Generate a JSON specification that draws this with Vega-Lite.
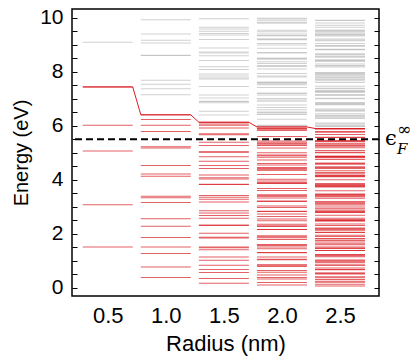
{
"$schema": "https://vega.github.io/schema/vega-lite/v6.json",
"width": 307, "height": 287,
"autosize": {"type": "none"},
"padding": {"left": 72, "top": 9, "right": 33, "bottom": 64},
"background": "white",
"config": {"view": {"stroke": "black", "strokeWidth": 1.5}, "font": "Liberation Sans",
 "axis": {"grid": false, "domain": false, "tickColor": "black", "labelColor": "black", "titleColor": "black", "labelFont": "Liberation Sans", "titleFont": "Liberation Sans", "titleFontWeight": "normal"}},
"datasets": {
"homo": [{"r":0.285,"e":7.442},{"r":0.715,"e":7.442},{"r":0.785,"e":6.406},{"r":1.215,"e":6.406},{"r":1.285,"e":6.13},{"r":1.715,"e":6.13},{"r":1.785,"e":5.959},{"r":2.215,"e":5.959},{"r":2.285,"e":5.9},{"r":2.715,"e":5.9}],
"levels": [
{"r":0.5,"e":1.504,"s":"o"},{"r":0.5,"e":3.077,"s":"o"},{"r":0.5,"e":5.062,"s":"o"},{"r":0.5,"e":6.017,"s":"o"},{"r":0.5,"e":7.442,"s":"o"},{"r":0.5,"e":9.095,"s":"u"},
{"r":1,"e":0.376,"s":"o"},{"r":1,"e":0.769,"s":"o"},{"r":1,"e":1.266,"s":"o"},{"r":1,"e":1.504,"s":"o"},{"r":1,"e":1.86,"s":"o"},{"r":1,"e":2.274,"s":"o"},{"r":1,"e":2.551,"s":"o"},{"r":1,"e":3.152,"s":"o"},{"r":1,"e":3.335,"s":"o"},{"r":1,"e":3.384,"s":"o"},{"r":1,"e":4.134,"s":"o"},{"r":1,"e":4.211,"s":"o"},{"r":1,"e":4.53,"s":"o"},{"r":1,"e":5.177,"s":"o"},{"r":1,"e":5.22,"s":"o"},{"r":1,"e":5.786,"s":"o"},{"r":1,"e":6.017,"s":"o"},{"r":1,"e":6.233,"s":"o"},{"r":1,"e":6.406,"s":"o"},
{"r":1,"e":7.149,"s":"u"},{"r":1,"e":7.378,"s":"u"},{"r":1,"e":7.538,"s":"u"},{"r":1,"e":7.69,"s":"u"},{"r":1,"e":8.61,"s":"u"},{"r":1,"e":8.618,"s":"u"},{"r":1,"e":9.073,"s":"u"},{"r":1,"e":9.171,"s":"u"},{"r":1,"e":9.401,"s":"u"},{"r":1,"e":9.931,"s":"u"},
{"r":1.5,"e":0.167,"s":"o"},{"r":1.5,"e":0.342,"s":"o"},{"r":1.5,"e":0.562,"s":"o"},{"r":1.5,"e":0.668,"s":"o"},{"r":1.5,"e":0.827,"s":"o"},{"r":1.5,"e":1.011,"s":"o"},{"r":1.5,"e":1.134,"s":"o"},{"r":1.5,"e":1.401,"s":"o"},{"r":1.5,"e":1.482,"s":"o"},{"r":1.5,"e":1.504,"s":"o"},{"r":1.5,"e":1.838,"s":"o"},{"r":1.5,"e":1.871,"s":"o"},{"r":1.5,"e":2.013,"s":"o"},{"r":1.5,"e":2.301,"s":"o"},{"r":1.5,"e":2.32,"s":"o"},{"r":1.5,"e":2.571,"s":"o"},{"r":1.5,"e":2.674,"s":"o"},{"r":1.5,"e":2.77,"s":"o"},{"r":1.5,"e":2.847,"s":"o"},{"r":1.5,"e":3.177,"s":"o"},{"r":1.5,"e":3.279,"s":"o"},{"r":1.5,"e":3.35,"s":"o"},{"r":1.5,"e":3.418,"s":"o"},{"r":1.5,"e":3.827,"s":"o"},{"r":1.5,"e":3.83,"s":"o"},{"r":1.5,"e":4.032,"s":"o"},{"r":1.5,"e":4.076,"s":"o"},{"r":1.5,"e":4.178,"s":"o"},{"r":1.5,"e":4.414,"s":"o"},{"r":1.5,"e":4.529,"s":"o"},{"r":1.5,"e":4.689,"s":"o"},{"r":1.5,"e":4.85,"s":"o"},{"r":1.5,"e":5.022,"s":"o"},{"r":1.5,"e":5.039,"s":"o"},{"r":1.5,"e":5.274,"s":"o"},{"r":1.5,"e":5.388,"s":"o"},{"r":1.5,"e":5.671,"s":"o"},{"r":1.5,"e":5.702,"s":"o"},{"r":1.5,"e":5.914,"s":"o"},{"r":1.5,"e":6.016,"s":"o"},{"r":1.5,"e":6.063,"s":"o"},{"r":1.5,"e":6.13,"s":"o"},
{"r":1.5,"e":6.404,"s":"u"},{"r":1.5,"e":6.54,"s":"u"},{"r":1.5,"e":6.856,"s":"u"},{"r":1.5,"e":6.897,"s":"u"},{"r":1.5,"e":6.91,"s":"u"},{"r":1.5,"e":7.027,"s":"u"},{"r":1.5,"e":7.144,"s":"u"},{"r":1.5,"e":7.456,"s":"u"},{"r":1.5,"e":7.734,"s":"u"},{"r":1.5,"e":7.776,"s":"u"},{"r":1.5,"e":7.846,"s":"u"},{"r":1.5,"e":7.921,"s":"u"},{"r":1.5,"e":8.087,"s":"u"},{"r":1.5,"e":8.189,"s":"u"},{"r":1.5,"e":8.417,"s":"u"},{"r":1.5,"e":8.599,"s":"u"},{"r":1.5,"e":8.695,"s":"u"},{"r":1.5,"e":8.737,"s":"u"},{"r":1.5,"e":8.883,"s":"u"},{"r":1.5,"e":9.196,"s":"u"},{"r":1.5,"e":9.367,"s":"u"},{"r":1.5,"e":9.424,"s":"u"},{"r":1.5,"e":9.505,"s":"u"},{"r":1.5,"e":9.59,"s":"u"},{"r":1.5,"e":9.656,"s":"u"},{"r":1.5,"e":9.968,"s":"u"},
{"r":2,"e":0.094,"s":"o"},{"r":2,"e":0.192,"s":"o"},{"r":2,"e":0.316,"s":"o"},{"r":2,"e":0.376,"s":"o"},{"r":2,"e":0.465,"s":"o"},{"r":2,"e":0.568,"s":"o"},{"r":2,"e":0.638,"s":"o"},{"r":2,"e":0.788,"s":"o"},{"r":2,"e":0.834,"s":"o"},{"r":2,"e":0.846,"s":"o"},{"r":2,"e":1.034,"s":"o"},{"r":2,"e":1.053,"s":"o"},{"r":2,"e":1.133,"s":"o"},{"r":2,"e":1.294,"s":"o"},{"r":2,"e":1.305,"s":"o"},{"r":2,"e":1.446,"s":"o"},{"r":2,"e":1.504,"s":"o"},{"r":2,"e":1.558,"s":"o"},{"r":2,"e":1.601,"s":"o"},{"r":2,"e":1.787,"s":"o"},{"r":2,"e":1.845,"s":"o"},{"r":2,"e":1.885,"s":"o"},{"r":2,"e":1.923,"s":"o"},{"r":2,"e":2.153,"s":"o"},{"r":2,"e":2.155,"s":"o"},{"r":2,"e":2.268,"s":"o"},{"r":2,"e":2.293,"s":"o"},{"r":2,"e":2.35,"s":"o"},{"r":2,"e":2.483,"s":"o"},{"r":2,"e":2.548,"s":"o"},{"r":2,"e":2.638,"s":"o"},{"r":2,"e":2.728,"s":"o"},{"r":2,"e":2.825,"s":"o"},{"r":2,"e":2.835,"s":"o"},{"r":2,"e":2.967,"s":"o"},{"r":2,"e":3.031,"s":"o"},{"r":2,"e":3.19,"s":"o"},{"r":2,"e":3.208,"s":"o"},{"r":2,"e":3.327,"s":"o"},{"r":2,"e":3.384,"s":"o"},{"r":2,"e":3.411,"s":"o"},{"r":2,"e":3.448,"s":"o"},{"r":2,"e":3.603,"s":"o"},{"r":2,"e":3.679,"s":"o"},{"r":2,"e":3.857,"s":"o"},{"r":2,"e":3.88,"s":"o"},{"r":2,"e":3.887,"s":"o"},{"r":2,"e":3.953,"s":"o"},{"r":2,"e":4.019,"s":"o"},{"r":2,"e":4.194,"s":"o"},{"r":2,"e":4.351,"s":"o"},{"r":2,"e":4.374,"s":"o"},{"r":2,"e":4.413,"s":"o"},{"r":2,"e":4.456,"s":"o"},{"r":2,"e":4.549,"s":"o"},{"r":2,"e":4.606,"s":"o"},{"r":2,"e":4.735,"s":"o"},{"r":2,"e":4.837,"s":"o"},{"r":2,"e":4.891,"s":"o"},{"r":2,"e":4.915,"s":"o"},{"r":2,"e":4.997,"s":"o"},{"r":2,"e":5.173,"s":"o"},{"r":2,"e":5.269,"s":"o"},{"r":2,"e":5.301,"s":"o"},{"r":2,"e":5.346,"s":"o"},{"r":2,"e":5.394,"s":"o"},{"r":2,"e":5.432,"s":"o"},{"r":2,"e":5.607,"s":"o"},{"r":2,"e":5.824,"s":"o"},{"r":2,"e":5.878,"s":"o"},{"r":2,"e":5.893,"s":"o"},{"r":2,"e":5.895,"s":"o"},{"r":2,"e":5.959,"s":"o"},
{"r":2,"e":6.001,"s":"u"},{"r":2,"e":6.017,"s":"u"},{"r":2,"e":6.244,"s":"u"},{"r":2,"e":6.417,"s":"u"},{"r":2,"e":6.433,"s":"u"},{"r":2,"e":6.502,"s":"u"},{"r":2,"e":6.504,"s":"u"},{"r":2,"e":6.591,"s":"u"},{"r":2,"e":6.677,"s":"u"},{"r":2,"e":6.773,"s":"u"},{"r":2,"e":6.906,"s":"u"},{"r":2,"e":6.96,"s":"u"},{"r":2,"e":7.01,"s":"u"},{"r":2,"e":7.146,"s":"u"},{"r":2,"e":7.206,"s":"u"},{"r":2,"e":7.207,"s":"u"},{"r":2,"e":7.423,"s":"u"},{"r":2,"e":7.523,"s":"u"},{"r":2,"e":7.557,"s":"u"},{"r":2,"e":7.596,"s":"u"},{"r":2,"e":7.61,"s":"u"},{"r":2,"e":7.615,"s":"u"},{"r":2,"e":7.813,"s":"u"},{"r":2,"e":7.843,"s":"u"},{"r":2,"e":7.939,"s":"u"},{"r":2,"e":8.108,"s":"u"},{"r":2,"e":8.195,"s":"u"},{"r":2,"e":8.231,"s":"u"},{"r":2,"e":8.31,"s":"u"},{"r":2,"e":8.37,"s":"u"},{"r":2,"e":8.465,"s":"u"},{"r":2,"e":8.502,"s":"u"},{"r":2,"e":8.504,"s":"u"},{"r":2,"e":8.697,"s":"u"},{"r":2,"e":8.713,"s":"u"},{"r":2,"e":8.875,"s":"u"},{"r":2,"e":8.995,"s":"u"},{"r":2,"e":9.051,"s":"u"},{"r":2,"e":9.188,"s":"u"},{"r":2,"e":9.209,"s":"u"},{"r":2,"e":9.219,"s":"u"},{"r":2,"e":9.339,"s":"u"},{"r":2,"e":9.344,"s":"u"},{"r":2,"e":9.401,"s":"u"},{"r":2,"e":9.482,"s":"u"},{"r":2,"e":9.541,"s":"u"},{"r":2,"e":9.815,"s":"u"},{"r":2,"e":9.821,"s":"u"},{"r":2,"e":9.895,"s":"u"},{"r":2,"e":9.959,"s":"u"},{"r":2,"e":9.986,"s":"u"},
{"r":2.5,"e":0.06,"s":"o"},{"r":2.5,"e":0.123,"s":"o"},{"r":2.5,"e":0.202,"s":"o"},{"r":2.5,"e":0.241,"s":"o"},{"r":2.5,"e":0.298,"s":"o"},{"r":2.5,"e":0.364,"s":"o"},{"r":2.5,"e":0.408,"s":"o"},{"r":2.5,"e":0.504,"s":"o"},{"r":2.5,"e":0.534,"s":"o"},{"r":2.5,"e":0.541,"s":"o"},{"r":2.5,"e":0.662,"s":"o"},{"r":2.5,"e":0.674,"s":"o"},{"r":2.5,"e":0.725,"s":"o"},{"r":2.5,"e":0.828,"s":"o"},{"r":2.5,"e":0.835,"s":"o"},{"r":2.5,"e":0.926,"s":"o"},{"r":2.5,"e":0.963,"s":"o"},{"r":2.5,"e":0.997,"s":"o"},{"r":2.5,"e":1.025,"s":"o"},{"r":2.5,"e":1.144,"s":"o"},{"r":2.5,"e":1.181,"s":"o"},{"r":2.5,"e":1.206,"s":"o"},{"r":2.5,"e":1.23,"s":"o"},{"r":2.5,"e":1.378,"s":"o"},{"r":2.5,"e":1.379,"s":"o"},{"r":2.5,"e":1.452,"s":"o"},{"r":2.5,"e":1.467,"s":"o"},{"r":2.5,"e":1.504,"s":"o"},{"r":2.5,"e":1.589,"s":"o"},{"r":2.5,"e":1.631,"s":"o"},{"r":2.5,"e":1.688,"s":"o"},{"r":2.5,"e":1.746,"s":"o"},{"r":2.5,"e":1.808,"s":"o"},{"r":2.5,"e":1.814,"s":"o"},{"r":2.5,"e":1.899,"s":"o"},{"r":2.5,"e":1.94,"s":"o"},{"r":2.5,"e":2.042,"s":"o"},{"r":2.5,"e":2.053,"s":"o"},{"r":2.5,"e":2.129,"s":"o"},{"r":2.5,"e":2.166,"s":"o"},{"r":2.5,"e":2.183,"s":"o"},{"r":2.5,"e":2.207,"s":"o"},{"r":2.5,"e":2.306,"s":"o"},{"r":2.5,"e":2.355,"s":"o"},{"r":2.5,"e":2.468,"s":"o"},{"r":2.5,"e":2.483,"s":"o"},{"r":2.5,"e":2.488,"s":"o"},{"r":2.5,"e":2.53,"s":"o"},{"r":2.5,"e":2.572,"s":"o"},{"r":2.5,"e":2.684,"s":"o"},{"r":2.5,"e":2.784,"s":"o"},{"r":2.5,"e":2.799,"s":"o"},{"r":2.5,"e":2.825,"s":"o"},{"r":2.5,"e":2.852,"s":"o"},{"r":2.5,"e":2.911,"s":"o"},{"r":2.5,"e":2.948,"s":"o"},{"r":2.5,"e":3.03,"s":"o"},{"r":2.5,"e":3.096,"s":"o"},{"r":2.5,"e":3.13,"s":"o"},{"r":2.5,"e":3.145,"s":"o"},{"r":2.5,"e":3.198,"s":"o"},{"r":2.5,"e":3.311,"s":"o"},{"r":2.5,"e":3.372,"s":"o"},{"r":2.5,"e":3.393,"s":"o"},{"r":2.5,"e":3.422,"s":"o"},{"r":2.5,"e":3.452,"s":"o"},{"r":2.5,"e":3.476,"s":"o"},{"r":2.5,"e":3.589,"s":"o"},{"r":2.5,"e":3.727,"s":"o"},{"r":2.5,"e":3.762,"s":"o"},{"r":2.5,"e":3.771,"s":"o"},{"r":2.5,"e":3.773,"s":"o"},{"r":2.5,"e":3.814,"s":"o"},{"r":2.5,"e":3.841,"s":"o"},{"r":2.5,"e":3.851,"s":"o"},{"r":2.5,"e":3.996,"s":"o"},{"r":2.5,"e":4.107,"s":"o"},{"r":2.5,"e":4.117,"s":"o"},{"r":2.5,"e":4.161,"s":"o"},{"r":2.5,"e":4.162,"s":"o"},{"r":2.5,"e":4.218,"s":"o"},{"r":2.5,"e":4.273,"s":"o"},{"r":2.5,"e":4.335,"s":"o"},{"r":2.5,"e":4.42,"s":"o"},{"r":2.5,"e":4.454,"s":"o"},{"r":2.5,"e":4.486,"s":"o"},{"r":2.5,"e":4.573,"s":"o"},{"r":2.5,"e":4.612,"s":"o"},{"r":2.5,"e":4.613,"s":"o"},{"r":2.5,"e":4.75,"s":"o"},{"r":2.5,"e":4.815,"s":"o"},{"r":2.5,"e":4.837,"s":"o"},{"r":2.5,"e":4.861,"s":"o"},{"r":2.5,"e":4.87,"s":"o"},{"r":2.5,"e":4.873,"s":"o"},{"r":2.5,"e":5.0,"s":"o"},{"r":2.5,"e":5.019,"s":"o"},{"r":2.5,"e":5.081,"s":"o"},{"r":2.5,"e":5.189,"s":"o"},{"r":2.5,"e":5.245,"s":"o"},{"r":2.5,"e":5.268,"s":"o"},{"r":2.5,"e":5.318,"s":"o"},{"r":2.5,"e":5.356,"s":"o"},{"r":2.5,"e":5.418,"s":"o"},{"r":2.5,"e":5.441,"s":"o"},{"r":2.5,"e":5.443,"s":"o"},{"r":2.5,"e":5.566,"s":"o"},{"r":2.5,"e":5.576,"s":"o"},{"r":2.5,"e":5.68,"s":"o"},{"r":2.5,"e":5.757,"s":"o"},{"r":2.5,"e":5.792,"s":"o"},{"r":2.5,"e":5.88,"s":"o"},{"r":2.5,"e":5.894,"s":"o"},{"r":2.5,"e":5.9,"s":"o"},
{"r":2.5,"e":5.977,"s":"u"},{"r":2.5,"e":5.98,"s":"u"},{"r":2.5,"e":6.016,"s":"u"},{"r":2.5,"e":6.068,"s":"u"},{"r":2.5,"e":6.106,"s":"u"},{"r":2.5,"e":6.281,"s":"u"},{"r":2.5,"e":6.286,"s":"u"},{"r":2.5,"e":6.333,"s":"u"},{"r":2.5,"e":6.374,"s":"u"},{"r":2.5,"e":6.391,"s":"u"},{"r":2.5,"e":6.449,"s":"u"},{"r":2.5,"e":6.546,"s":"u"},{"r":2.5,"e":6.56,"s":"u"},{"r":2.5,"e":6.587,"s":"u"},{"r":2.5,"e":6.621,"s":"u"},{"r":2.5,"e":6.78,"s":"u"},{"r":2.5,"e":6.801,"s":"u"},{"r":2.5,"e":6.818,"s":"u"},{"r":2.5,"e":6.833,"s":"u"},{"r":2.5,"e":6.864,"s":"u"},{"r":2.5,"e":7.001,"s":"u"},{"r":2.5,"e":7.021,"s":"u"},{"r":2.5,"e":7.122,"s":"u"},{"r":2.5,"e":7.157,"s":"u"},{"r":2.5,"e":7.243,"s":"u"},{"r":2.5,"e":7.258,"s":"u"},{"r":2.5,"e":7.28,"s":"u"},{"r":2.5,"e":7.284,"s":"u"},{"r":2.5,"e":7.298,"s":"u"},{"r":2.5,"e":7.37,"s":"u"},{"r":2.5,"e":7.395,"s":"u"},{"r":2.5,"e":7.469,"s":"u"},{"r":2.5,"e":7.609,"s":"u"},{"r":2.5,"e":7.674,"s":"u"},{"r":2.5,"e":7.712,"s":"u"},{"r":2.5,"e":7.773,"s":"u"},{"r":2.5,"e":7.781,"s":"u"},{"r":2.5,"e":7.837,"s":"u"},{"r":2.5,"e":7.883,"s":"u"},{"r":2.5,"e":7.889,"s":"u"},{"r":2.5,"e":7.945,"s":"u"},{"r":2.5,"e":7.951,"s":"u"},{"r":2.5,"e":7.975,"s":"u"},{"r":2.5,"e":8.178,"s":"u"},{"r":2.5,"e":8.218,"s":"u"},{"r":2.5,"e":8.24,"s":"u"},{"r":2.5,"e":8.294,"s":"u"},{"r":2.5,"e":8.391,"s":"u"},{"r":2.5,"e":8.405,"s":"u"},{"r":2.5,"e":8.425,"s":"u"},{"r":2.5,"e":8.448,"s":"u"},{"r":2.5,"e":8.541,"s":"u"},{"r":2.5,"e":8.572,"s":"u"},{"r":2.5,"e":8.627,"s":"u"},{"r":2.5,"e":8.658,"s":"u"},{"r":2.5,"e":8.664,"s":"u"},{"r":2.5,"e":8.82,"s":"u"},{"r":2.5,"e":8.824,"s":"u"},{"r":2.5,"e":8.841,"s":"u"},{"r":2.5,"e":8.958,"s":"u"},{"r":2.5,"e":8.961,"s":"u"},{"r":2.5,"e":8.975,"s":"u"},{"r":2.5,"e":9.052,"s":"u"},{"r":2.5,"e":9.151,"s":"u"},{"r":2.5,"e":9.185,"s":"u"},{"r":2.5,"e":9.217,"s":"u"},{"r":2.5,"e":9.327,"s":"u"},{"r":2.5,"e":9.361,"s":"u"},{"r":2.5,"e":9.389,"s":"u"},{"r":2.5,"e":9.415,"s":"u"},{"r":2.5,"e":9.481,"s":"u"},{"r":2.5,"e":9.482,"s":"u"},{"r":2.5,"e":9.54,"s":"u"},{"r":2.5,"e":9.545,"s":"u"},{"r":2.5,"e":9.657,"s":"u"},{"r":2.5,"e":9.723,"s":"u"},{"r":2.5,"e":9.815,"s":"u"},{"r":2.5,"e":9.908,"s":"u"},{"r":2.5,"e":9.916,"s":"u"}
]},
"layer": [
{"data": {"name": "levels"},
 "mark": {"type": "tick", "orient": "horizontal", "size": 50, "thickness": 1},
 "encoding": {
  "x": {"field": "r", "type": "quantitative", "scale": {"domain": [0.192, 2.836], "nice": false, "zero": false},
        "axis": {"values": [0.5, 1, 1.5, 2, 2.5], "format": ".1f", "ticks": false, "labelFontSize": 22, "labelPadding": 9, "labelFlush": false, "title": "Radius (nm)", "titleFontSize": 22, "titlePadding": 7}},
  "y": {"field": "e", "type": "quantitative", "scale": {"domain": [-0.31, 10.33], "nice": false, "zero": false},
        "axis": {"values": [0,0.5,1,1.5,2,2.5,3,3.5,4,4.5,5,5.5,6,6.5,7,7.5,8,8.5,9,9.5,10], "tickSize": -5, "labelExpr": "datum.value % 2 === 0 ? format(datum.value, 'd') : ''", "labelOverlap": false, "labelFlush": false, "labelFontSize": 21, "labelPadding": 14, "title": "Energy (eV)", "titleFontSize": 20, "titlePadding": 8}},
  "color": {"field": "s", "type": "nominal", "scale": {"domain": ["o", "u"], "range": ["#d81e24", "#bdbdbd"]}, "legend": null}
 }},
{"data": {"name": "homo"},
 "mark": {"type": "line", "color": "#d81e24", "strokeWidth": 1},
 "encoding": {"x": {"field": "r", "type": "quantitative", "title": "Radius (nm)"}, "y": {"field": "e", "type": "quantitative", "axis": null}}},
{"data": {"values": [{}]},
 "mark": {"type": "rule", "strokeDash": [7, 4], "strokeWidth": 2, "color": "black"},
 "encoding": {"y": {"datum": 5.5, "type": "quantitative",
   "axis": {"orient": "right", "values": [0,0.5,1,1.5,2,2.5,3,3.5,4,4.5,5,5.5,6,6.5,7,7.5,8,8.5,9,9.5,10], "tickSize": -5, "labels": false, "title": null}}}},
{"data": {"values": [{}]},
 "mark": {"type": "text", "text": "ϵ", "font": "DejaVu Serif", "fontSize": 21, "align": "left", "baseline": "middle", "dx": 6, "dy": 0, "color": "black"},
 "encoding": {"x": {"datum": 2.836, "type": "quantitative"}, "y": {"datum": 5.5, "type": "quantitative", "axis": null}}},
{"data": {"values": [{}]},
 "mark": {"type": "text", "text": "∞", "font": "DejaVu Serif", "fontSize": 17, "align": "left", "baseline": "middle", "dx": 18, "dy": -9, "color": "black"},
 "encoding": {"x": {"datum": 2.836, "type": "quantitative"}, "y": {"datum": 5.5, "type": "quantitative", "axis": null}}},
{"data": {"values": [{}]},
 "mark": {"type": "text", "text": "F", "font": "DejaVu Serif", "fontStyle": "italic", "fontSize": 15, "align": "left", "baseline": "middle", "dx": 18, "dy": 10, "color": "black"},
 "encoding": {"x": {"datum": 2.836, "type": "quantitative"}, "y": {"datum": 5.5, "type": "quantitative", "axis": null}}}
],
"resolve": {"axis": {"y": "independent"}}
}
